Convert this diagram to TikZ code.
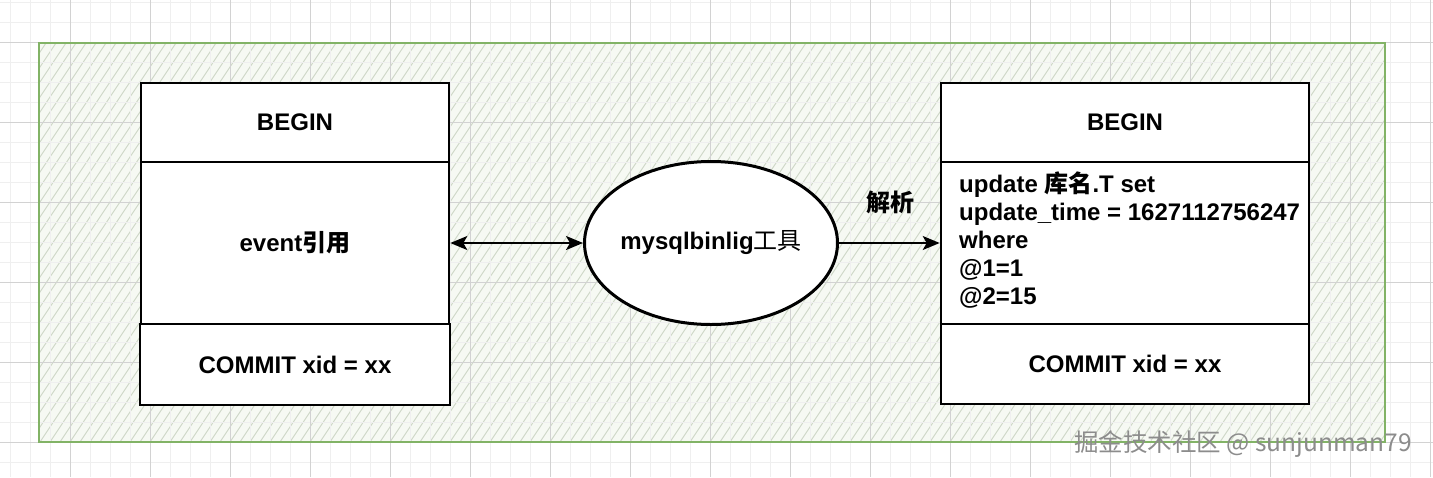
\documentclass[tikz,border=0pt]{standalone}
\usepackage{fontspec}
\setmainfont{Liberation Sans}
\newfontfamily\cjk{Noto Sans CJK SC}
\usetikzlibrary{arrows.meta,shapes.geometric}
\definecolor{minorgrid}{HTML}{EFEFEF}
\definecolor{majorgrid}{HTML}{D2D2D2}
\definecolor{greenborder}{HTML}{82B366}
\definecolor{greenfill}{HTML}{F6F9F3}
\definecolor{hatchcol}{HTML}{CDD6C6}
\definecolor{wmgray}{HTML}{8C8C8C}
\tikzset{
  minorline/.style={draw=minorgrid, line width=0.8pt},
  majorline/.style={draw=majorgrid, line width=0.9pt},
  hatchline/.style={draw=hatchcol, line width=0.9pt},
  box/.style={draw=black, fill=white, line width=2.6pt, inner sep=0pt},
  lbl/.style={font=\fontsize{24}{28}\selectfont\bfseries, text=black},
  arr/.style={draw=black, line width=1.8pt}
}
\begin{document}
\begin{tikzpicture}[x=1pt,y=-1pt]
\useasboundingbox (0,0) rectangle (1433,477);
\fill[white] (0,0) rectangle (1433,477);
% green region fill and hatch
\fill[greenfill] (39,43) rectangle (1385,442);
\begin{scope}
  \clip (39,43) rectangle (1385,442);
  \foreach \x in {-270,-260,...,1390} \draw[hatchline] (\x,442) -- ++(270,-405);
\end{scope}
% grid
\foreach \x in {10,30,...,1430} \draw[minorline] (\x,0) -- (\x,477);
\foreach \y in {2,22,...,476} \draw[minorline] (0,\y) -- (1433,\y);
\foreach \x in {70,150,...,1430} \draw[majorline] (\x,0) -- (\x,477);
\foreach \y in {42,122,...,442} \draw[majorline] (0,\y) -- (1433,\y);
% green border
\draw[greenborder, line width=1.8pt] (39,43) rectangle (1385,442);
% left column
\node[box, minimum width=308pt, minimum height=79pt] (lbegin) at (295,122.5) {};
\node[box, minimum width=308pt, minimum height=162pt] (levent) at (295,243) {};
\node[box, minimum width=310pt, minimum height=81pt] (lcommit) at (295,364.5) {};
\node[lbl] (lbegint) at (lbegin.center) {BEGIN};
\node[lbl] (leventt) at (levent.center) {event{\cjk 引用}};
\node[lbl] (lcommitt) at (lcommit.center) {COMMIT xid = xx};
% right column
\node[box, minimum width=368pt, minimum height=79pt] (rbegin) at (1125,122.5) {};
\node[box, minimum width=368pt, minimum height=162pt] (rupd) at (1125,243) {};
\node[box, minimum width=368pt, minimum height=80pt] (rcommit) at (1125,364) {};
\node[lbl] (rbegint) at (rbegin.center) {BEGIN};
\node[lbl, align=left, anchor=west, inner sep=0pt] (rupdt) at (959,240) {update {\cjk 库名}.T set\\update\_time = 1627112756247\\where\\@1=1\\@2=15};
\node[lbl] (rcommitt) at (rcommit.center) {COMMIT xid = xx};
% ellipse
\node[ellipse, draw=black, fill=white, line width=3pt, minimum width=253pt, minimum height=163pt, inner sep=0pt] (tool) at (711,243) {};
\node[lbl] (toolt) at (tool.center) {mysqlbinlig{\cjk\mdseries 工具}};
% connectors
\draw[arr, {Stealth[length=17pt,width=14pt,inset=4pt]}-{Stealth[length=17pt,width=14pt,inset=4pt]}] (levent.east) -- (tool.west);
\draw[arr, -{Stealth[length=17pt,width=14pt,inset=4pt]}] (tool.east) -- (rupd.west);
\node[lbl] (jiexi) at (890,202) {\cjk 解析};
% watermark
\node[anchor=west, text=wmgray, inner sep=0pt, font=\cjk\fontsize{24.5}{26}\selectfont] (wm) at (1074,444) {掘金技术社区 @ sunjunman79};
\end{tikzpicture}
\end{document}
